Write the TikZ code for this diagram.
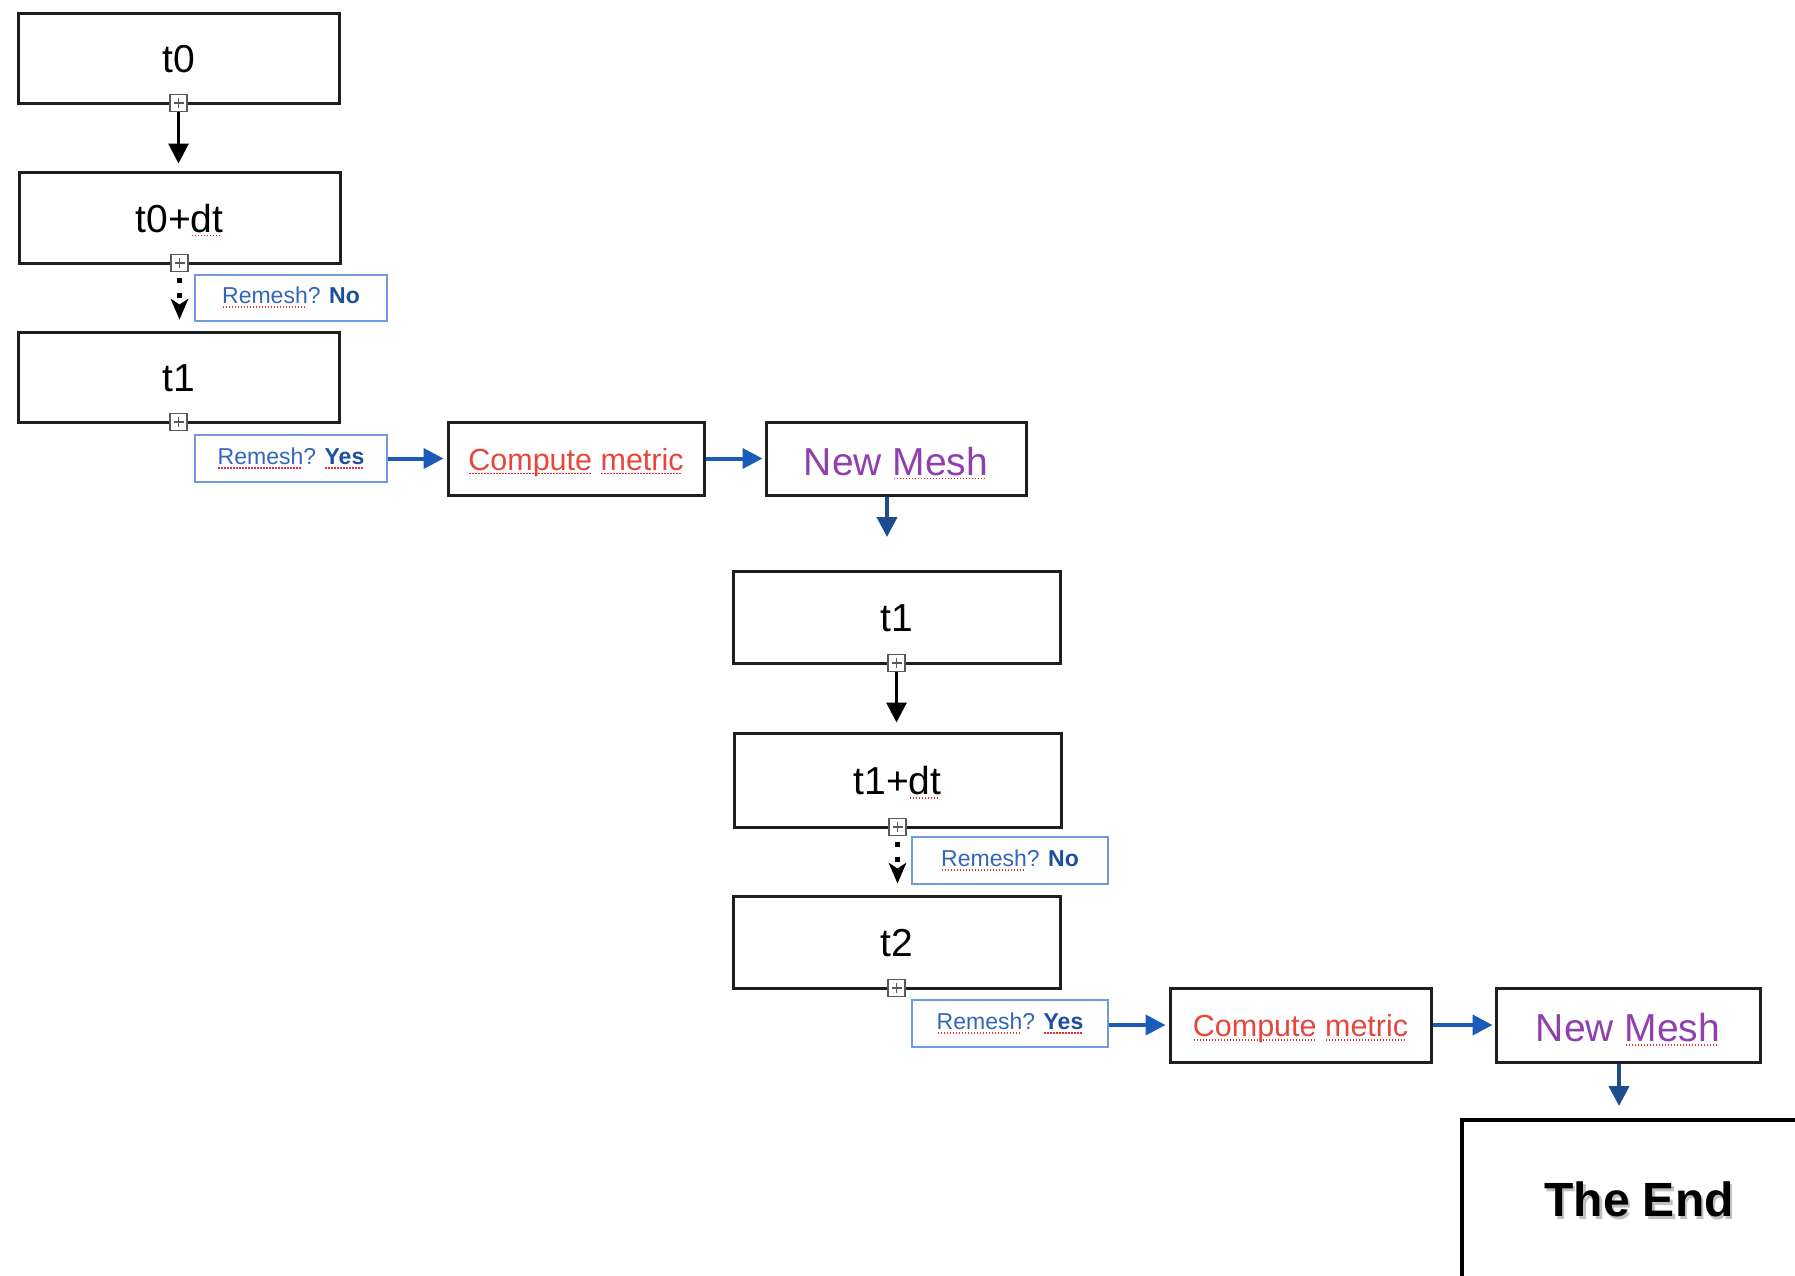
\documentclass[tikz,border=0pt]{standalone}
\usepackage{fontspec}
\setmainfont{Liberation Sans}
\usetikzlibrary{arrows.meta}
\definecolor{remblue}{HTML}{3366BB}
\definecolor{remdark}{HTML}{1D4FA0}
\definecolor{remborder}{HTML}{6D9BE0}
\definecolor{arrblue}{HTML}{1A5CB8}
\definecolor{arrnavy}{HTML}{1D4D8F}
\definecolor{cmred}{HTML}{E8463D}
\definecolor{nmpurple}{HTML}{9040AE}
\definecolor{splred}{HTML}{E03030}
\newsavebox\splbox
\newcommand\spl[1]{\sbox\splbox{#1}\rlap{\usebox\splbox}\raisebox{-4pt}{\textcolor{splred}{\hbox to \wd\splbox{\leaders\hbox to 3pt{\hss\vrule width 1.4pt height 1.4pt\hss}\hfill}}}}
\tikzset{
  tbox/.style={draw=black!88, line width=3pt, inner sep=0pt, text height=29pt, text depth=0pt, font=\fontsize{39pt}{47pt}\selectfont},
  rbox/.style={draw=remborder, line width=2pt, inner sep=0pt, text height=12pt, text depth=0pt, text=remblue, font=\fontsize{23pt}{28pt}\selectfont},
  cbox/.style={draw=black!88, line width=3pt, inner sep=0pt, text depth=0pt},
  sqc/.style={draw=black!65, fill=white, line width=1.4pt, minimum size=17pt, inner sep=0pt,
    path picture={\draw[black!65, line width=1.1pt]
      ([yshift=-3.5pt]path picture bounding box.north) -- ([yshift=3.5pt]path picture bounding box.south)
      ([xshift=3.5pt]path picture bounding box.west) -- ([xshift=-3.5pt]path picture bounding box.east);}},
  blkarrow/.style={black, line width=3pt, -{Triangle[width=20pt,length=20pt]}},
  dotarrow/.style={black, line width=4.5pt, dash pattern=on 4.5pt off 10.5pt, dash phase=9pt, -{Stealth[width=18pt,length=21pt,inset=6pt,line width=0pt]}},
  bluarrow/.style={arrblue, line width=4pt, -{Triangle[width=20pt,length=20pt]}},
  navarrow/.style={arrnavy, line width=4pt, -{Triangle[width=20pt,length=20pt]}},
}
\begin{document}
\begin{tikzpicture}[x=1pt, y=-1pt]
\useasboundingbox (0,0) rectangle (1795,1275);
\clip (0,0) rectangle (1795,1275);
\fill[white] (0,0) rectangle (1795,1275);

% left column
\node[tbox, minimum width=321pt, minimum height=90pt] (t0) at (178.5,58) {t0};
\node[tbox, minimum width=321pt, minimum height=91pt] (t0dt) at (179.5,217.5) {t0+\spl{dt}};
\node[rbox, minimum width=192pt, minimum height=46pt] (remno1) at (291,297.5) {\spl{Remesh}? \textcolor{remdark}{\bfseries No}};
\node[tbox, minimum width=321pt, minimum height=90pt] (t1a) at (178.5,377) {t1};
\node[rbox, minimum width=192pt, minimum height=47pt] (remyes1) at (291,458.5) {\spl{Remesh}? \textcolor{remdark}{\bfseries\spl{Yes}}};
\node[cbox, minimum width=256pt, minimum height=73pt, text height=23pt, text=cmred, font=\fontsize{30.5pt}{36pt}\selectfont] (cm1) at (576,458.5) {\spl{Compute} \spl{metric}};
\node[cbox, minimum width=260pt, minimum height=73pt, text height=33pt, text=nmpurple, font=\fontsize{39pt}{47pt}\selectfont] (nm1) at (896,458.5) {New \spl{Mesh}};
\coordinate (nm1end) at (887,537);

\node[sqc] (s1) at (178.5,103) {};
\node[sqc] (s2) at (179.5,263) {};
\node[sqc] (s3) at (178.5,422) {};

\draw[blkarrow, shorten >=7pt] (s1.south) -- (s1.south |- t0dt.north);
\draw[dotarrow, shorten >=11pt] (s2.south) -- (s2.south |- t1a.north);
\draw[bluarrow, shorten >=3pt] (remyes1.east) -- (cm1.west);
\draw[bluarrow, shorten >=2pt] (cm1.east) -- (nm1.west);
\draw[navarrow] (nm1end |- nm1.south) -- (nm1end);

% middle column
\node[tbox, minimum width=327pt, minimum height=92pt] (t1b) at (896.5,617) {t1};
\node[tbox, minimum width=327pt, minimum height=94pt] (t1dt) at (897.5,780) {t1+\spl{dt}};
\node[rbox, minimum width=196pt, minimum height=47pt] (remno2) at (1010,860.5) {\spl{Remesh}? \textcolor{remdark}{\bfseries No}};
\node[tbox, minimum width=327pt, minimum height=92pt] (t2) at (896.5,942) {t2};
\node[rbox, minimum width=196pt, minimum height=47pt] (remyes2) at (1010,1023.5) {\spl{Remesh}? \textcolor{remdark}{\bfseries\spl{Yes}}};
\node[cbox, minimum width=261pt, minimum height=74pt, text height=23pt, text=cmred, font=\fontsize{30.5pt}{36pt}\selectfont] (cm2) at (1300.5,1025) {\spl{Compute} \spl{metric}};
\node[cbox, minimum width=264pt, minimum height=74pt, text height=33pt, text=nmpurple, font=\fontsize{39pt}{47pt}\selectfont] (nm2) at (1628,1025) {New \spl{Mesh}};
\coordinate (nm2end) at (1619,1106);

\node[sqc] (s4) at (896.5,663) {};
\node[sqc] (s5) at (897.5,827) {};
\node[sqc] (s6) at (896.5,988) {};

\draw[blkarrow, shorten >=9pt] (s4.south) -- (s4.south |- t1dt.north);
\draw[dotarrow, shorten >=11pt] (s5.south) -- (s5.south |- t2.north);
\draw[bluarrow, shorten >=3pt] (remyes2.east |- cm2.west) -- (cm2.west);
\draw[bluarrow, shorten >=2pt] (cm2.east) -- (nm2.west);
\draw[navarrow] (nm2end |- nm2.south) -- (nm2end);

% the end
\node[draw=black, line width=4.5pt, minimum width=354pt, minimum height=158pt] (theend) at (1639,1199) {};
\node[text=black!45, opacity=0.55, font=\fontsize{48pt}{56pt}\selectfont\bfseries] (endshadow) at (1641.5,1202.5) {The End};
\node[text=black, font=\fontsize{48pt}{56pt}\selectfont\bfseries] (endtext) at (1639,1199) {The End};
\end{tikzpicture}
\end{document}
